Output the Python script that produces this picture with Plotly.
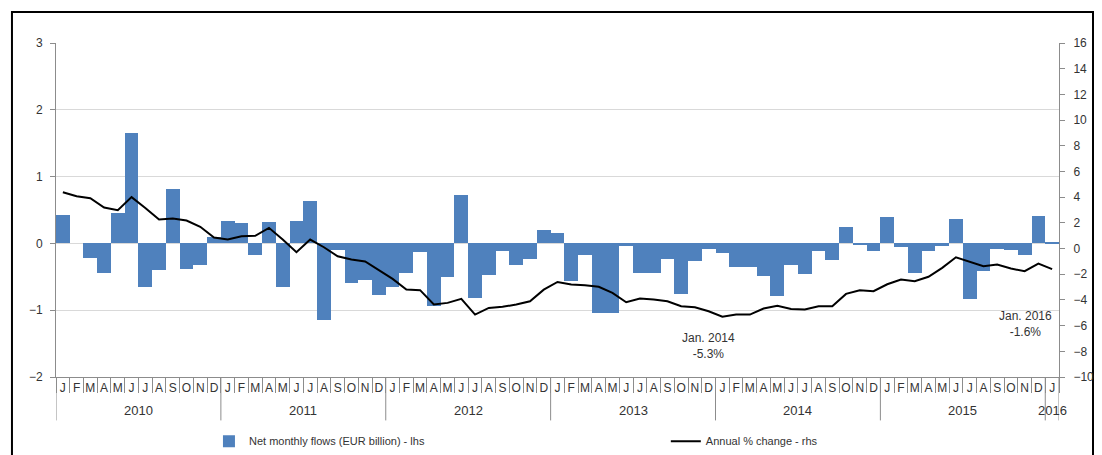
import plotly.graph_objects as go

months = ["J", "F", "M", "A", "M", "J", "J", "A", "S", "O", "N", "D"]
years = ["2010", "2011", "2012", "2013", "2014", "2015", "2016"]
month_labels = months * 6 + ["J"]

net_flows = [
    0.43, 0.00, -0.22, -0.45, 0.46, 1.65, -0.65, -0.40, 0.82, -0.38, -0.33, 0.09,
    0.33, 0.31, -0.18, 0.32, -0.65, 0.33, 0.64, -1.14, -0.10, -0.60, -0.55, -0.77,
    -0.65, -0.45, -0.13, -0.94, -0.51, 0.72, -0.81, -0.47, -0.11, -0.32, -0.23, 0.20,
    0.16, -0.57, -0.17, -1.04, -1.04, -0.04, -0.44, -0.45, -0.23, -0.75, -0.27, -0.09,
    -0.14, -0.35, -0.35, -0.49, -0.79, -0.32, -0.46, -0.12, -0.25, 0.24, -0.02, -0.12,
    0.40, -0.05, -0.44, -0.12, -0.04, 0.37, -0.83, -0.42, -0.08, -0.10, -0.18, 0.41,
    0.01,
]

annual_change = [
    4.38, 4.07, 3.92, 3.19, 2.98, 4.00, 3.16, 2.26, 2.33, 2.18, 1.69, 0.86,
    0.70, 0.96, 0.99, 1.61, 0.70, -0.28, 0.70, 0.10, -0.60, -0.86, -1.01, -1.70,
    -2.36, -3.19, -3.24, -4.36, -4.23, -3.92, -5.14, -4.62, -4.54, -4.36, -4.10, -3.20,
    -2.60, -2.80, -2.85, -2.98, -3.45, -4.18, -3.89, -3.97, -4.10, -4.49, -4.57, -4.88,
    -5.30, -5.14, -5.14, -4.67, -4.46, -4.70, -4.75, -4.49, -4.49, -3.53, -3.24, -3.32,
    -2.78, -2.41, -2.54, -2.20, -1.50, -0.68, -1.04, -1.37, -1.25, -1.56, -1.76, -1.17,
    -1.60,
]

bar_name = "Net monthly flows (EUR billion) - lhs"
line_name = "Annual % change - rhs"

n = len(net_flows)
xs = list(range(n))

FONT = "Liberation Sans, Arial, sans-serif"
AX = "#8c8c8c"
TXT = "#333333"

fig = go.Figure()
fig.add_trace(go.Bar(x=xs, y=net_flows, name=bar_name, marker=dict(color="#4f81bd", line=dict(width=0)),
                     yaxis="y", legend="legend"))
fig.add_trace(go.Scatter(x=xs, y=annual_change, name=line_name, mode="lines",
                         line=dict(color="black", width=2), yaxis="y2", legend="legend2"))

# year separators and labels
boundaries = [i * 12 - 0.5 for i in range(len(years))] + [n - 0.5]
shapes = []
for b in boundaries:
    shapes.append(dict(type="line", xref="x", yref="paper", x0=b, x1=b, y0=0, y1=-0.13,
                       line=dict(color=AX, width=1)))
# outer frame
shapes.append(dict(type="rect", xref="paper", yref="paper", x0=-0.0439, x1=1.0339, y0=-0.3, y1=1.093,
                   line=dict(color="black", width=2), layer="below"))

annotations = []
for i, yr in enumerate(years):
    start = i * 12
    end = min(start + 11, n - 1)
    annotations.append(dict(x=(start + end) / 2, y=-0.099, xref="x", yref="paper", text=yr,
                            showarrow=False, font=dict(size=13, color=TXT, family=FONT),
                            yanchor="middle"))

annotations.append(dict(x=48, y=annual_change[48], xref="x", yref="y2", text="Jan. 2014<br>-5.3%",
                        showarrow=False, xshift=-14, yshift=-29, font=dict(size=12, color=TXT, family=FONT)))
annotations.append(dict(x=72, y=annual_change[72], xref="x", yref="y2", text="Jan. 2016<br>-1.6%",
                        showarrow=False, xshift=-27, yshift=-55, font=dict(size=12, color=TXT, family=FONT)))

leg_common = dict(orientation="h", y=-0.192, yanchor="middle", xanchor="left",
                  font=dict(size=11, color=TXT, family=FONT), bgcolor="rgba(0,0,0,0)")

fig.update_layout(
    width=1102, height=455,
    margin=dict(l=56, r=43, t=43, b=78, autoexpand=False),
    paper_bgcolor="white", plot_bgcolor="white",
    font=dict(family=FONT, size=12, color=TXT),
    bargap=0,
    showlegend=True,
    legend=dict(x=0.1525, **leg_common),
    legend2=dict(x=0.608, **leg_common),
    xaxis=dict(range=[-0.5, n - 0.5], tickmode="array", tickvals=xs, ticktext=month_labels,
               ticks="", showline=True, linecolor=AX, linewidth=1, showgrid=False, zeroline=False,
               automargin=False,
               tickfont=dict(size=12, color=TXT, family=FONT),
               minor=dict(tickmode="array", tickvals=[x - 0.5 for x in xs] + [n - 0.5],
                          ticks="outside", ticklen=15, tickcolor=AX, tickwidth=1, showgrid=False)),
    yaxis=dict(range=[-2, 3], dtick=1, showline=True, linecolor=AX, ticks="outside", ticklen=5,
               tickcolor=AX, showgrid=True, gridcolor="#d9d9d9", zeroline=False, automargin=False,
               ticklabelstandoff=5,
               tickfont=dict(size=12, color=TXT, family=FONT)),
    yaxis2=dict(range=[-10, 16], dtick=2, overlaying="y", side="right", showline=True, linecolor=AX,
                ticks="outside", ticklen=5, tickcolor=AX, showgrid=False, zeroline=False, automargin=False,
                ticklabelstandoff=6,
                tickfont=dict(size=12, color=TXT, family=FONT)),
    shapes=shapes,
    annotations=annotations,
)

fig.write_html("out.html", config={"displayModeBar": False},
               post_script="document.body.style.margin='0';")
